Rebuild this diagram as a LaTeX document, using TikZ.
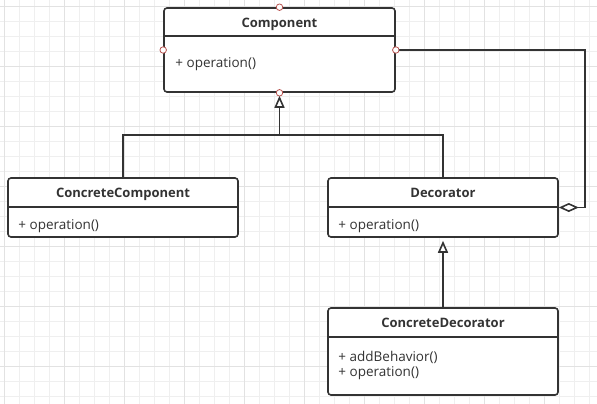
\documentclass[tikz,border=0pt]{standalone}
\usepackage{fontspec}
\setmainfont{Open Sans}
\usetikzlibrary{arrows.meta}
\definecolor{ink}{HTML}{333333}
\definecolor{port}{HTML}{B85450}
\definecolor{gridminor}{HTML}{EFEFEF}
\definecolor{gridmajor}{HTML}{E2E2E2}
\begin{document}
\begin{tikzpicture}[x=1pt,y=-1pt,
    cls/.style={draw=ink,line width=1.6pt,rounded corners=3pt,fill=white,inner sep=0pt},
    title/.style={text=ink,font=\fontsize{13}{15}\selectfont\bfseries,inner sep=0pt,anchor=base},
    member/.style={text=ink,font=\fontsize{13.5}{15}\selectfont,inner sep=0pt,anchor=base west},
    line/.style={draw=ink,line width=1.6pt},
    gen/.style={line,-{Triangle[open,length=12pt,width=10pt]}},
    agg/.style={line,-{Diamond[open,length=20pt,width=9pt]}},
    dot/.style={circle,draw=port,fill=white,line width=0.8pt,minimum size=6.5pt,inner sep=0pt}]
    \useasboundingbox (0,0) rectangle (597,404);
    \fill[white] (0,0) rectangle (597,404);
    % grid
    \foreach \x in {4,19,...,597} \draw[gridminor,line width=0.8pt] (\x,0) -- (\x,404);
    \foreach \y in {6,21,...,404} \draw[gridminor,line width=0.8pt] (0,\y) -- (597,\y);
    \foreach \x in {4,64,...,597} \draw[gridmajor,line width=0.8pt] (\x,0) -- (\x,404);
    \foreach \y in {6,66,...,404} \draw[gridmajor,line width=0.8pt] (0,\y) -- (597,\y);
    % classes
    \node[cls,minimum width=231,minimum height=84](comp) at (279.5,50){};
    \node[title](compT) at ([yshift=-20]comp.north){Component};
    \draw[line] ([yshift=-29]comp.north west) -- ([yshift=-29]comp.north east);
    \node[member](compOp) at ([xshift=12,yshift=-60]comp.north west){+ operation()};
    \node[cls,minimum width=230,minimum height=59](ccomp) at (123,207.5){};
    \node[title](ccompT) at ([yshift=-20]ccomp.north){ConcreteComponent};
    \draw[line] ([yshift=-30]ccomp.north west) -- ([yshift=-30]ccomp.north east);
    \node[member](ccompOp) at ([xshift=11,yshift=-52]ccomp.north west){+ operation()};
    \node[cls,minimum width=230,minimum height=59](deco) at (443,207.5){};
    \node[title](decoT) at ([yshift=-20]deco.north){Decorator};
    \draw[line] ([yshift=-30]deco.north west) -- ([yshift=-30]deco.north east);
    \node[member](decoOp) at ([xshift=11,yshift=-52]deco.north west){+ operation()};
    \node[cls,minimum width=230,minimum height=87](cdeco) at (443,351.5){};
    \node[title](cdecoT) at ([yshift=-20]cdeco.north){ConcreteDecorator};
    \draw[line] ([yshift=-30]cdeco.north west) -- ([yshift=-30]cdeco.north east);
    \node[member](cdecoAdd) at ([xshift=11,yshift=-54]cdeco.north west){+ addBehavior()};
    \node[member](cdecoOp) at ([xshift=11,yshift=-69]cdeco.north west){+ operation()};
    % connectors
    \coordinate(junc) at (279.5,135);
    \coordinate(aggc) at (585,50);
    \draw[line](ccomp.north) |- (junc) -| (deco.north);
    \draw[gen,shorten >=3pt](junc) -- (comp.south);
    \draw[gen,shorten >=3pt](cdeco.north) -- (deco.south);
    \draw[agg](comp.east) -- (aggc) |- (deco.east);
    % ports
    \node[dot] at (comp.north){};
    \node[dot] at (comp.west){};
    \node[dot] at (comp.east){};
    \node[dot] at (comp.south){};
\end{tikzpicture}
\end{document}
